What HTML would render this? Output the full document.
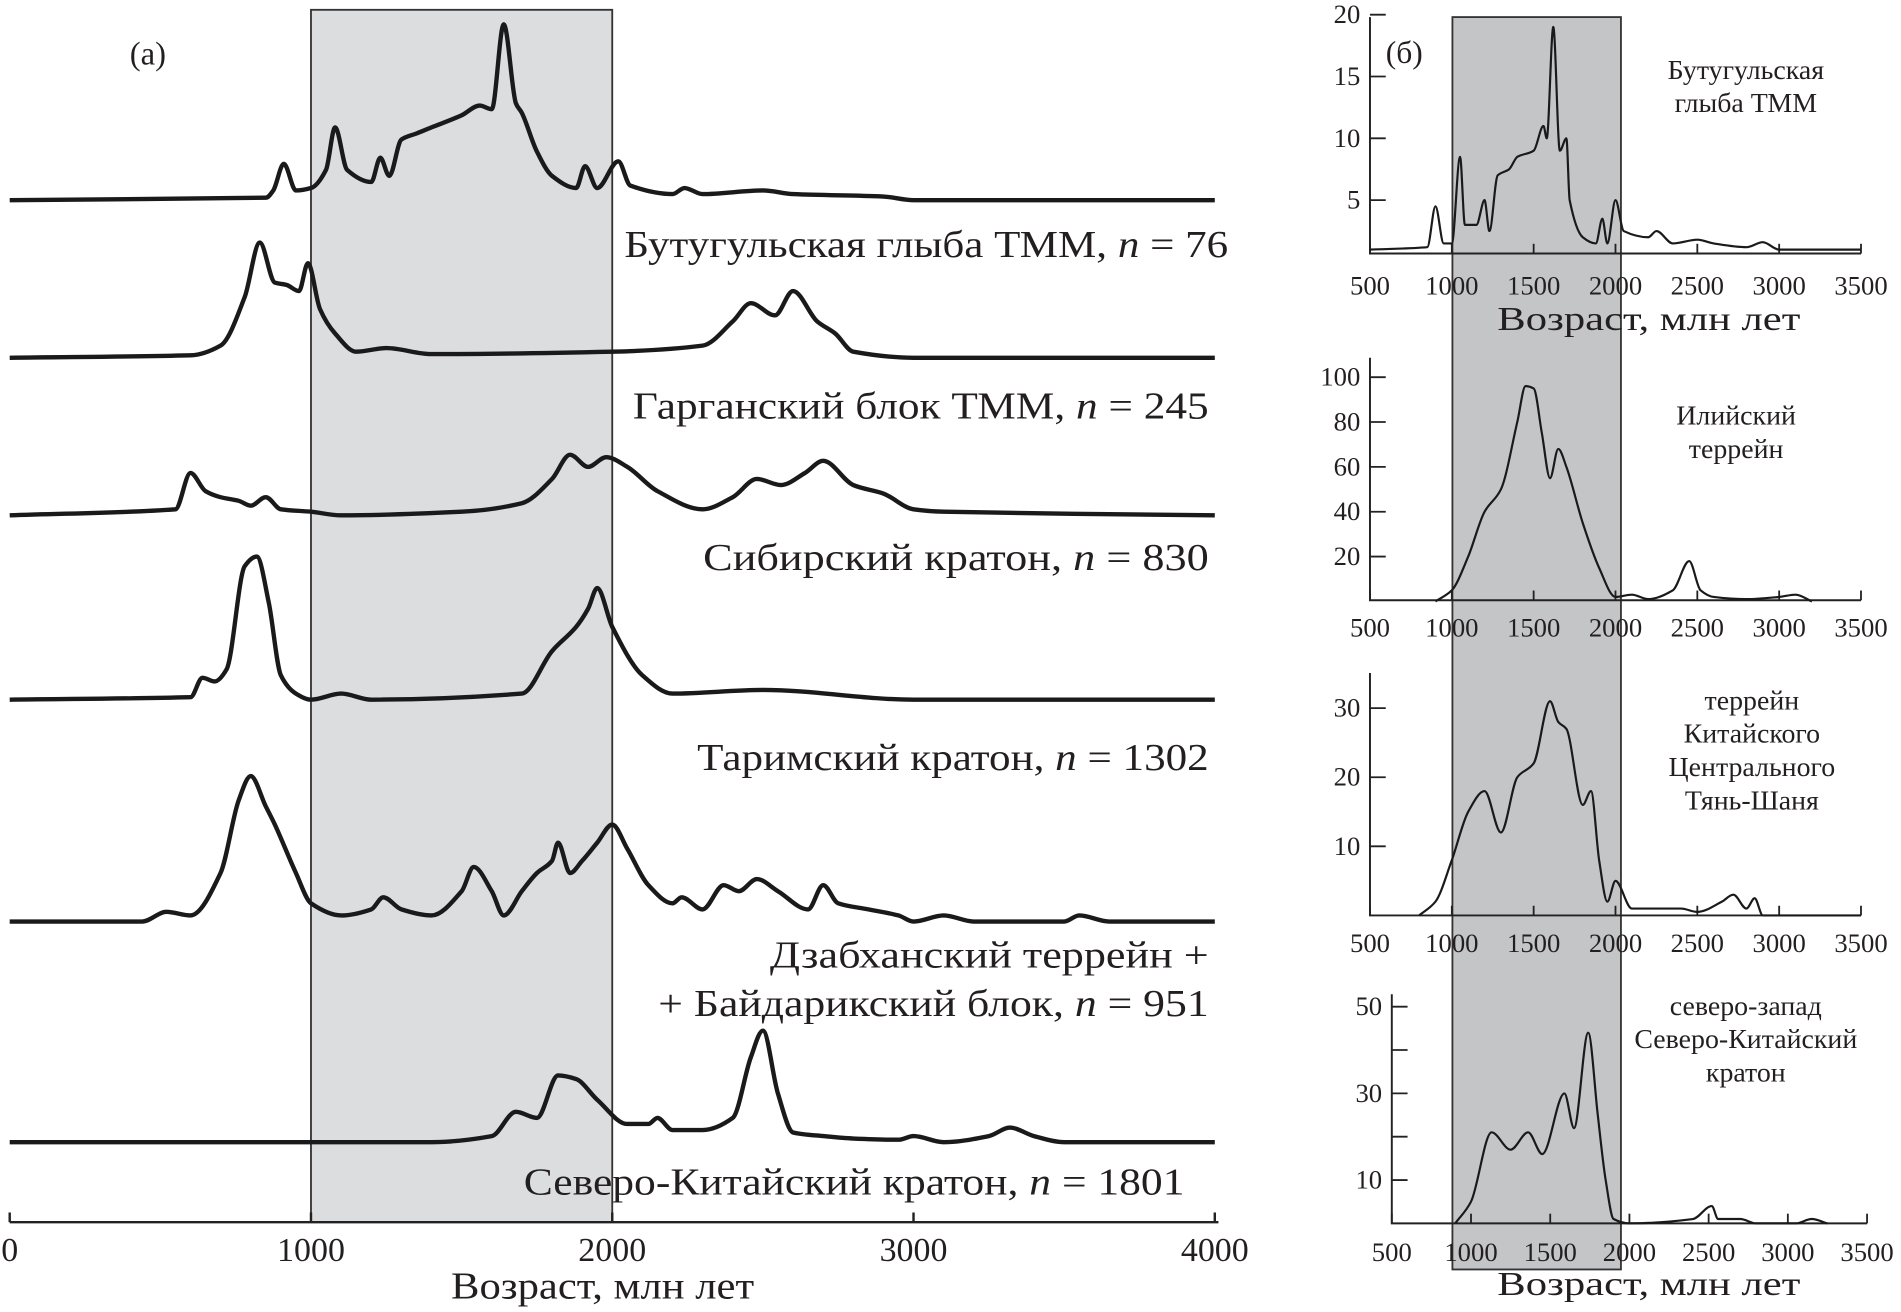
<!DOCTYPE html>
<html><head><meta charset="utf-8"><style>
html,body{margin:0;padding:0;background:#fff}
svg{display:block}
text{font-family:"Liberation Serif",serif;fill:#231f20}
</style></head><body>
<svg id="fig" width="1901" height="1312" viewBox="0 0 1568 1082" xmlns="http://www.w3.org/2000/svg">
<g id="left"></g>
<g id="right"></g>
</svg>
<script>
// ---------- Panel (a) data: age (Ma) and relative probability ----------
const ageA1=[0,850,875,910,950,1000,1050,1080,1120,1200,1230,1260,1300,1350,1400,1500,1560,1600,1640,1680,1700,1750,1800,1880,1910,1950,2020,2060,2200,2240,2300,2500,2600,2900,3000,4000];
const valA1=[0,2,8,30,8,10,25,60,25,15,35,20,50,55,60,70,78,75,145,80,72,40,20,10,28,10,32,12,5,10,5,8,5,3,0,0];
const ageA2=[0,600,700,780,830,880,920,960,990,1030,1080,1150,1250,1400,2000,2300,2400,2460,2540,2600,2680,2740,2800,3000,4000];
const valA2=[0,2,10,50,95,62,60,55,78,40,20,5,8,3,5,10,30,45,35,55,30,20,5,0,0];
const ageA3=[0,550,600,650,700,760,800,850,900,1000,1100,1500,1700,1800,1860,1920,1980,2050,2150,2300,2400,2480,2560,2640,2700,2800,2900,3000,3100,4000];
const valA3=[0,5,35,20,15,12,8,15,5,3,0,3,10,30,50,40,48,40,20,5,15,30,25,35,45,25,18,5,3,0];
const ageA4=[0,600,640,680,720,780,820,860,900,950,1000,1100,1200,1700,1800,1880,1920,1950,2000,2100,2200,2500,3000,4000];
const valA4=[0,2,18,15,25,110,118,80,20,5,0,5,0,5,40,60,75,92,60,20,5,8,0,0];
const ageA5=[0,440,520,600,700,760,800,850,880,950,1000,1100,1200,1240,1300,1400,1500,1540,1600,1640,1700,1750,1800,1820,1860,1900,1950,2000,2050,2120,2200,2230,2300,2370,2420,2480,2550,2650,2700,2750,2850,2950,3000,3100,3200,3500,3550,3650,4000];
const valA5=[0,0,8,5,40,100,120,95,80,40,15,5,10,20,10,5,25,45,25,5,25,40,50,65,40,50,65,80,60,30,15,20,10,30,25,35,25,10,30,15,10,5,0,5,0,0,5,0,0];
const ageA6=[0,1400,1600,1680,1750,1820,1880,1950,2050,2120,2150,2200,2300,2400,2460,2500,2550,2600,2700,2800,2950,3000,3100,3250,3320,3400,3500,4000];
const valA6=[0,0,5,25,20,55,52,35,15,15,20,10,10,20,70,92,40,8,5,3,2,5,0,5,12,5,0,0];
const baselinesA=[165,295,425,577,760,942];
const labelsA=[["Бутугульская глыба ТММ, ","76"],["Гарганский блок ТММ, ","245"],["Сибирский кратон, ","830"],["Таримский кратон, ","1302"],["+ Байдарикский блок, ","951"],["Северо-Китайский кратон, ","1801"]];
const ticksA=[0,1000,2000,3000,4000];

// ---------- Panel (b) data ----------
const ageB1=[500,850,900,950,1000,1050,1080,1150,1200,1230,1280,1350,1400,1500,1560,1580,1620,1660,1700,1720,1800,1880,1920,1950,2000,2050,2200,2250,2350,2500,2600,2800,2900,3000,3500];
const valB1=[1,1.2,4.5,1.5,1.5,8.5,3,3,5,2.5,7,7.5,8.5,9,11,10,19,9,10,5,2,1.5,3.5,1.5,5,2.5,2,2.5,1.5,1.8,1.5,1.2,1.6,1,1];
const ageB2=[900,1000,1100,1200,1300,1400,1450,1500,1550,1600,1650,1700,1800,1900,2000,2100,2200,2350,2450,2520,2600,2800,3000,3100,3200];
const valB2=[0,5,20,40,50,80,96,95,75,55,68,60,35,15,2,3,1,5,18,5,2,1,2,3,0];
const ageB3=[800,900,1000,1100,1200,1300,1400,1500,1600,1650,1700,1800,1850,1900,1950,2000,2100,2400,2500,2650,2720,2800,2850,2900,3500];
const valB3=[0,2,8,15,18,12,20,22,31,28,27,16,18,8,2,5,1,1,0.5,2,3,1,2.5,0,0];
const ageB4=[900,1000,1130,1250,1360,1450,1590,1650,1740,1800,1850,1900,2000,2400,2520,2560,2700,2800,3050,3150,3250];
const valB4=[0,5,21,17,21,16,30,22,44,25,10,1,0,1,4,1,1,0,0,1,0];
const ticksBx=[500,1000,1500,2000,2500,3000,3500];
const ticksB1=[5,10,15,20];
const ticksB2=[20,40,60,80,100];
const ticksB3=[10,20,30];
const ticksB4=[10,30,50];
const minorB4=[20,40];

const NS="http://www.w3.org/2000/svg";
function el(tag,attrs,parent,txt){const e=document.createElementNS(NS,tag);for(const k in attrs)e.setAttribute(k,attrs[k]);if(txt!==undefined)e.textContent=txt;parent.appendChild(e);return e;}
// monotone cubic Hermite path (harmonic-mean tangents, no overshoot)
function spline(pts){const n=pts.length;const m=[];
 const sl=i=>(pts[i+1][1]-pts[i][1])/(pts[i+1][0]-pts[i][0]);
 for(let i=0;i<n;i++){if(i===0)m.push(sl(0));
  else if(i===n-1)m.push(sl(n-2));
  else{const s0=sl(i-1),s1=sl(i);m.push(s0*s1<=0?0:2*s0*s1/(s0+s1));}}
 let d="M"+pts[0][0].toFixed(1)+","+pts[0][1].toFixed(1);
 for(let i=0;i<n-1;i++){const dx=pts[i+1][0]-pts[i][0];
  d+=" C"+(pts[i][0]+dx/3).toFixed(1)+","+(pts[i][1]+m[i]*dx/3).toFixed(1)+" "+(pts[i+1][0]-dx/3).toFixed(1)+","+(pts[i+1][1]-m[i+1]*dx/3).toFixed(1)+" "+pts[i+1][0].toFixed(1)+","+pts[i+1][1].toFixed(1);}
 return d;}

// ---------- Panel (a) ----------
const L=document.getElementById('left');
const xA=a=>8+a*0.2485;
const r=el('rect',{x:xA(1000),y:8,width:xA(2000)-xA(1000),height:1000,fill:'#dcdddf',stroke:'#333','stroke-width':1.5},L);


const t0=el('text',{x:107,y:53,'font-size':27},L,'(a)');


const seriesA=[[ageA1,valA1],[ageA2,valA2],[ageA3,valA3],[ageA4,valA4],[ageA5,valA5],[ageA6,valA6]];
const names=['butugul','gargan','siberian','tarim','dzabkhan','north-china'];
seriesA.forEach((s,i)=>{const b=baselinesA[i];const pts=s[0].map((a,j)=>[xA(a),b-s[1][j]]);
 const p=el('path',{d:spline(pts),fill:'none',stroke:'#1a1a1a','stroke-width':3.6,'stroke-linejoin':'round'},L);
 
 });
const labY=[212,345,470,635,838,985],labR=[1013,997,997,997,997,977],labW=[498,475,417,422,454,545];
labelsA.forEach((l,i)=>{const t=el('text',{x:labR[i],y:labY[i],'font-size':31,'text-anchor':'end',textLength:labW[i],lengthAdjust:'spacingAndGlyphs'},L);
 
 
 el('tspan',{},t,l[0]);el('tspan',{'font-style':'italic'},t,'n');el('tspan',{},t,' = '+l[1]);});
const t2=el('text',{x:997,y:798,'font-size':31,'text-anchor':'end',textLength:362,lengthAdjust:'spacingAndGlyphs'},L,'Дзабханский террейн +');


const ax=el('line',{x1:8,y1:1008,x2:1005,y2:1008,stroke:'#222','stroke-width':2},L);


ticksA.forEach(v=>{el('line',{x1:xA(v),y1:1000,x2:xA(v),y2:1008,stroke:'#222','stroke-width':2},L);
 const t=el('text',{x:xA(v),y:1040,'font-size':28,'text-anchor':'middle'},L,String(v));
 
 });
const xt=el('text',{x:497,y:1071,'font-size':31,'text-anchor':'middle',textLength:250,lengthAdjust:'spacingAndGlyphs'},L,'Возраст, млн лет');



// ---------- Panel (b) ----------
const R=document.getElementById('right');
const rb=el('rect',{x:1198,y:14,width:139,height:1033,fill:'#c4c5c7',stroke:'#333','stroke-width':1.5},R);


const tb=el('text',{x:1143,y:52,'font-size':26},R,'(б)');


const panelsB=[
 {age:ageB1,val:valB1,x0:1130,x1:1535,y0:209,top:14,yz:216,ys:10.2,ticks:ticksB1,minor:[],lab:['Бутугульская','глыба ТММ'],lx:1440,ly:65,xl:243,title:272,name:'butugul'},
 {age:ageB2,val:valB2,x0:1130,x1:1535,y0:495,top:295,yz:496,ys:1.85,ticks:ticksB2,minor:[],lab:['Илийский','террейн'],lx:1432,ly:350,xl:525,title:null,name:'ili'},
 {age:ageB3,val:valB3,x0:1130,x1:1535,y0:755,top:555,yz:755,ys:5.7,ticks:ticksB3,minor:[],lab:['террейн','Китайского','Центрального','Тянь-Шаня'],lx:1445,ly:585,xl:785,title:null,name:'central-tianshan'},
 {age:ageB4,val:valB4,x0:1148,x1:1540,y0:1009,top:820,yz:1009,ys:3.575,ticks:ticksB4,minor:minorB4,lab:['северо-запад','Северо-Китайский','кратон'],lx:1440,ly:837,xl:1040,title:1068,name:'nw-north-china'}];
panelsB.forEach((P,k)=>{const xs=a=>P.x0+(a-500)*(P.x1-P.x0)/3000;const ys=v=>P.yz-v*P.ys;
 const g=el('g',{},R);
 
 
 el('path',{d:'M'+P.x0+','+P.top+' V'+P.y0+' H'+P.x1,fill:'none',stroke:'#222','stroke-width':1.6},g);
 ticksBx.forEach(v=>{el('line',{x1:xs(v),y1:P.y0,x2:xs(v),y2:P.y0-8,stroke:'#222','stroke-width':1.5},g);
  const t=el('text',{x:xs(v),y:P.xl,'font-size':22,'text-anchor':'middle'},g,String(v));
  
  });
 P.ticks.forEach(v=>{el('line',{x1:P.x0,y1:ys(v),x2:P.x0+13,y2:ys(v),stroke:'#222','stroke-width':1.5},g);
  const t=el('text',{x:P.x0-8,y:ys(v)+7,'font-size':22,'text-anchor':'end'},g,String(v));
  
  });
 P.minor.forEach(v=>el('line',{x1:P.x0,y1:ys(v),x2:P.x0+13,y2:ys(v),stroke:'#222','stroke-width':1.5},g));
 const pts=P.age.map((a,j)=>[xs(a),ys(P.val[j])]);
 const c=el('path',{d:spline(pts),fill:'none',stroke:'#1a1a1a','stroke-width':1.8},g);
 
 
 P.lab.forEach((s,i)=>{const t=el('text',{x:P.lx,y:P.ly+i*27.5,'font-size':23,'text-anchor':'middle'},g,s);
  
  });
 if(P.title){const t=el('text',{x:1360,y:P.title,'font-size':28,'text-anchor':'middle',textLength:250,lengthAdjust:'spacingAndGlyphs'},g,'Возраст, млн лет');
  
  }
});
</script>
</body></html>
